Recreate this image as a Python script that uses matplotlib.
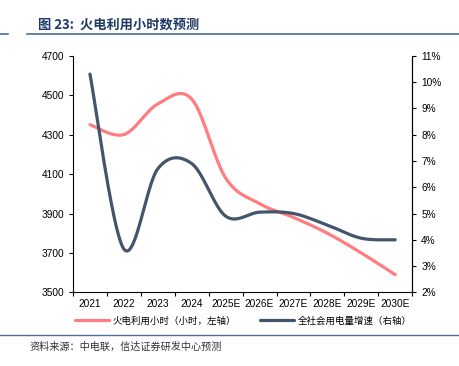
import numpy as np
import matplotlib
matplotlib.use("Agg")
import matplotlib.pyplot as plt
from matplotlib.ticker import FuncFormatter, FixedLocator

plt.rcParams['font.family'] = ['Liberation Sans', 'Noto Sans CJK SC', 'DejaVu Sans']

years = ['2021', '2022', '2023', '2024', '2025E', '2026E', '2027E', '2028E', '2029E', '2030E']
hours = [4350, 4300, 4455, 4480, 4080, 3950, 3880, 3800, 3700, 3590]        # 火电利用小时
growth = [10.3, 3.65, 6.7, 6.9, 4.9, 5.05, 5.0, 4.56, 4.06, 4.0]         # 全社会用电量增速 (%)

red = '#FF7C80'
navy = '#44546A'


def smooth(xs, ys, n=40):
    # Excel-style smoothed line (Catmull-Rom as cubic Bezier)
    xs = np.asarray(xs, float)
    ys = np.asarray(ys, float)
    px = np.concatenate([[xs[0]], xs, [xs[-1]]])
    py = np.concatenate([[ys[0]], ys, [ys[-1]]])
    ox, oy = [], []
    t = np.linspace(0, 1, n)
    for i in range(1, len(px) - 2):
        p0 = np.array([px[i], py[i]])
        p3 = np.array([px[i + 1], py[i + 1]])
        c1 = p0 + (np.array([px[i + 1], py[i + 1]]) - np.array([px[i - 1], py[i - 1]])) / 6
        c2 = p3 - (np.array([px[i + 2], py[i + 2]]) - np.array([px[i], py[i]])) / 6
        b = ((1 - t) ** 3)[:, None] * p0 + (3 * (1 - t) ** 2 * t)[:, None] * c1 \
            + (3 * (1 - t) * t ** 2)[:, None] * c2 + (t ** 3)[:, None] * p3
        ox.extend(b[:, 0])
        oy.extend(b[:, 1])
    return ox, oy


fig = plt.figure(figsize=(4.59, 3.66), dpi=100)
ax = fig.add_axes([0.159, 0.201, 0.739, 0.647])
ax2 = ax.twinx()

x = np.arange(len(years))
sx, sy = smooth(x, hours)
l1, = ax.plot(sx, sy, color=red, lw=2.3, solid_capstyle='round', label='火电利用小时（小时，左轴）')
sx, sy = smooth(x, growth)
l2, = ax2.plot(sx, sy, color=navy, lw=2.3, solid_capstyle='round', label='全社会用电量增速（右轴）')

ax.set_xlim(-0.5, len(years) - 0.5)
ax.set_ylim(3500, 4700)
ax.set_yticks(range(3500, 4701, 200))
ax2.set_ylim(2, 11)
ax2.set_yticks(range(2, 12))
ax2.yaxis.set_major_formatter(FuncFormatter(lambda v, p: f'{v:.0f}%'))

ax.xaxis.set_major_locator(FixedLocator(np.arange(-0.5, len(years), 1.0)))
ax.xaxis.set_minor_locator(FixedLocator(x))
ax.set_xticklabels([], minor=False)
ax.set_xticklabels(years, minor=True)

for a in (ax, ax2):
    a.spines['top'].set_visible(False)
    a.tick_params(axis='both', which='both', labelsize=7.3, colors='#000000', length=3, width=0.8)
ax.tick_params(axis='x', which='minor', length=0, pad=5)
ax2.spines['left'].set_visible(False)
ax2.spines['bottom'].set_visible(False)

fig.legend(handles=[l1, l2], loc='center', bbox_to_anchor=(0.53, 0.123), ncol=2,
           frameon=False, fontsize=6.8, handlelength=3.6, handletextpad=0.35, columnspacing=2.6)

# title and rules
fig.text(0.082, 0.932, '图 23:  火电利用小时数预测', fontsize=9.5, fontweight='bold',
         color='#1F3B64', family=['Noto Sans CJK SC', 'DejaVu Sans'], va='center')
fig.add_artist(plt.Line2D([0.059, 1.0], [0.908, 0.908], color='#4F6E9A', lw=1.2))
fig.add_artist(plt.Line2D([0.0, 0.018], [0.908, 0.908], color='#4F6E9A', lw=1.2))
fig.add_artist(plt.Line2D([0.0, 1.0], [0.085, 0.085], color='#4F6E9A', lw=1.0))
fig.text(0.065, 0.052, '资料来源：中电联，信达证券研发中心预测', fontsize=7.3,
         color='#333333', family=['Noto Sans CJK SC', 'DejaVu Sans'], va='center', style='italic')

fig.savefig('out.png', dpi=100)
